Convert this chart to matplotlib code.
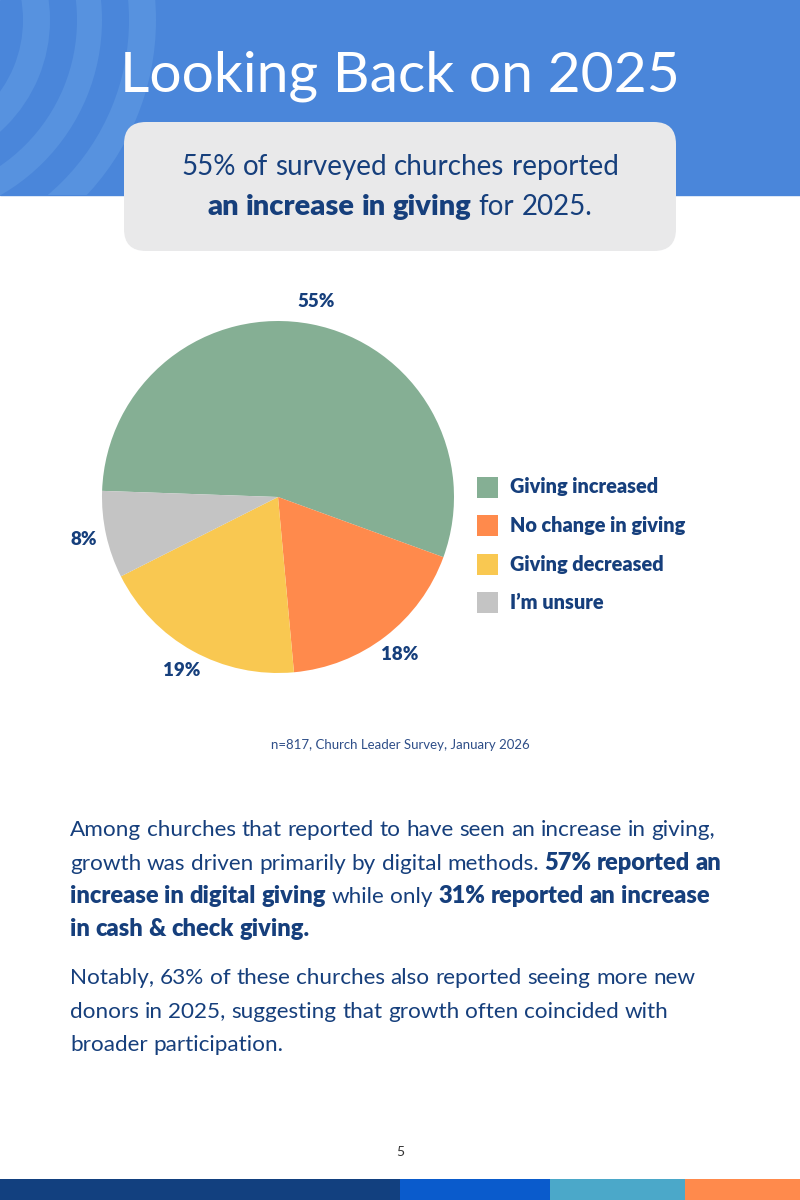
import matplotlib.pyplot as plt
from matplotlib.patches import Rectangle, FancyBboxPatch, Wedge

# chart data
categories = ["Giving increased", "No change in giving", "Giving decreased", "I\u2019m unsure"]
shares = [55, 18, 19, 8]
slice_colors = ["#85AF94", "#FF8A4C", "#F9C851", "#C4C4C4"]

title = "Looking Back on 2025"
note = "n=817, Church Leader Survey, January 2026"
page_no = "5"

headline = [
    [("55% of surveyed churches reported", "normal")],
    [("an increase in giving", "heavy"), ("for 2025.", "normal")],
]
para1 = [
    [("Among churches that reported to have seen an increase in giving,", "normal")],
    [("growth was driven primarily by digital methods.", "normal"), ("57% reported an", "heavy")],
    [("increase in digital giving", "heavy"), ("while only", "normal"), ("31% reported an increase", "heavy")],
    [("in cash & check giving.", "heavy")],
]
para2 = [
    [("Notably, 63% of these churches also reported seeing more new", "normal")],
    [("donors in 2025, suggesting that growth often coincided with", "normal")],
    [("broader participation.", "normal")],
]

NAVY = "#163F7C"
FONT = "Lato"

fig = plt.figure(figsize=(8, 12), dpi=100)
bg = fig.add_axes([0, 0, 1, 1])
bg.set_xlim(0, 800)
bg.set_ylim(1200, 0)
bg.axis("off")
renderer = fig.canvas.get_renderer()

# header band with faint rings
band = Rectangle((0, 0), 800, 195, color="#4A86DA", zorder=0)
bg.add_patch(band)
for r_out, w in [(150, 27), (202, 25), (256, 27)]:
    ring = Wedge((-100, 20), r_out, 0, 360, width=w, color="#5792DF", zorder=1, lw=0)
    bg.add_patch(ring)
    ring.set_clip_path(band)

bg.text(400, 76, title, ha="center", va="center", color="white",
        fontsize=41, family=FONT, zorder=3)

box = FancyBboxPatch((124, 122), 552, 129, boxstyle="round,pad=0,rounding_size=22",
                     fc="#E9E9EA", ec="none", zorder=2)
bg.add_patch(box)


def text_w(s, weight, size):
    t = bg.text(0, 0, s, fontsize=size, family=FONT, weight=weight)
    w = t.get_window_extent(renderer).width
    t.remove()
    return w


def draw_line(x, y, runs, size, color, align="left"):
    # bold runs are set a touch larger, the original face is wider
    words = []
    for txt, weight in runs:
        sz = size * 1.05 if weight == "heavy" else size
        for wd in txt.split(" "):
            words.append((wd, weight, sz))
    widths = [text_w(wd, wt, sz) for wd, wt, sz in words]
    spaces = [text_w("n n", wt, sz) - text_w("nn", wt, sz) for wd, wt, sz in words]
    total = sum(widths) + sum(spaces[1:])
    cx = x - total / 2 if align == "center" else x
    for i, (wd, wt, sz) in enumerate(words):
        if i > 0:
            cx += spaces[i]
        bg.text(cx, y, wd, fontsize=sz, family=FONT, weight=wt, color=color,
                ha="left", va="baseline", zorder=4)
        cx += widths[i]


for i, line in enumerate(headline):
    draw_line(400, 175 + i * 40, line, 20, NAVY, align="center")

# pie chart
L = 1.3
cx, cy, rad = 278, 497, 176
size_px = 2 * L * rad
pax = fig.add_axes([(cx - size_px / 2) / 800, (1200 - cy - size_px / 2) / 1200,
                    size_px / 800, size_px / 1200])
wedges, _, pct_texts = pax.pie(shares, colors=slice_colors, startangle=178, counterclock=False,
                               autopct="%d%%", pctdistance=1.13,
                               wedgeprops=dict(lw=0))
for t in pct_texts:
    t.set_color(NAVY)
    t.set_fontsize(13.5)
    t.set_fontweight("heavy")
    t.set_family(FONT)
pax.set_xlim(-L, L)
pax.set_ylim(-L, L)
pax.set_aspect("equal")
pax.axis("off")

# legend
for i, (lab, col) in enumerate(zip(categories, slice_colors)):
    yy = 487 + i * 38.5
    bg.add_patch(Rectangle((477, yy - 10.5), 21, 21, color=col, lw=0, zorder=3))
    bg.text(510, yy, lab, fontsize=14.3, family=FONT, weight="heavy", color=NAVY,
            ha="left", va="center", zorder=4)

bg.text(400, 745, note, ha="center", va="center", fontsize=9.5, family=FONT,
        color="#2E4E88")

for i, line in enumerate(para1):
    draw_line(70, 836 + i * 33.5, line, 16.2, NAVY)
for i, line in enumerate(para2):
    draw_line(70, 984 + i * 33.5, line, 16.2, NAVY)

bg.text(400, 1152, page_no, ha="center", va="center", fontsize=10, family=FONT, color="#333333")

# footer stripes
for x0, x1, col in [(0, 400, "#12407F"), (400, 550, "#0A5BCC"), (550, 685, "#4BA8C9"), (685, 800, "#FF8A4C")]:
    bg.add_patch(Rectangle((x0, 1179), x1 - x0, 21, color=col, lw=0, zorder=3))

fig.savefig("out.png", dpi=100)
